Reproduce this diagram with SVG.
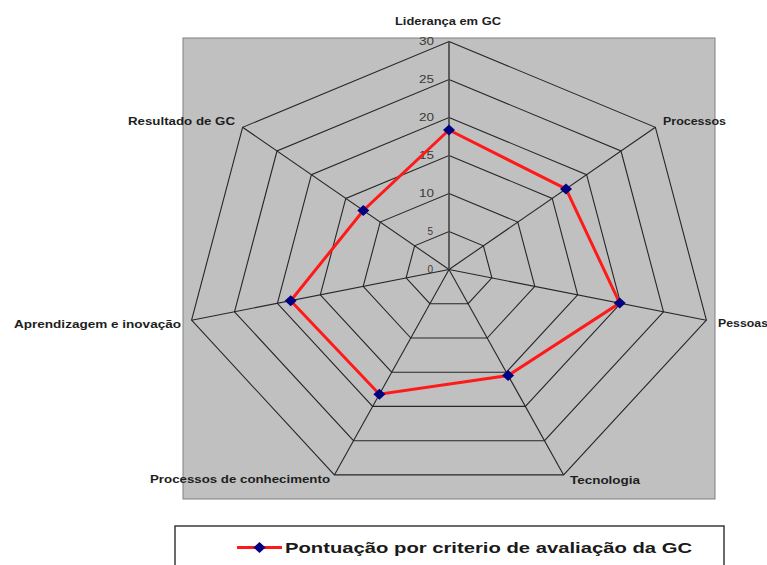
<svg xmlns="http://www.w3.org/2000/svg" width="767" height="565" viewBox="0 0 767 565">
<style>
.ring{fill:none;stroke:#262626;stroke-width:1.1}
.axis{stroke:#262626;stroke-width:1.1}
.vaxis{stroke:#4a4a4a;stroke-width:1.7}
.tick{font-family:"Liberation Sans",Arial,sans-serif;font-size:10px;fill:#3a3a3a;text-anchor:end}
.cat{font-family:"Liberation Sans",Arial,sans-serif;font-size:10.5px;font-weight:bold;fill:#1e1e1e}
.series{fill:none;stroke:#ff1a1a;stroke-width:3;stroke-linejoin:miter}
.leg{font-family:"Liberation Sans",Arial,sans-serif;font-size:15px;font-weight:bold;fill:#1a1a1a}
</style>
<defs>
<path id="dia" d="M0,-5.5 L6,0 L0,5.5 L-6,0 Z" fill="#000080"/>
</defs>
<rect width="767" height="565" fill="#ffffff"/>
<g id="plot-area">
<rect x="183" y="38" width="532" height="461" fill="#c0c0c0" stroke="#808080" stroke-width="1"/>
</g>
<g id="grid">
<polygon class="ring" points="449,231.5 483.4,245.8 491.9,277.95 468.1,303.7 429.9,303.7 406.1,277.95 414.6,245.8"/>
<polygon class="ring" points="449,193.5 517.8,222.1 534.8,286.4 487.2,338 410.8,338 363.2,286.4 380.2,222.1"/>
<polygon class="ring" points="449,155.5 552.2,198.4 577.7,294.85 506.3,372.2 391.7,372.2 320.3,294.85 345.8,198.4"/>
<polygon class="ring" points="449,117.5 586.6,174.7 620.6,303.3 525.4,406.4 372.6,406.4 277.4,303.3 311.4,174.7"/>
<polygon class="ring" points="449,79.5 621,151 663.5,311.75 544.5,440.7 353.5,440.7 234.5,311.75 277,151"/>
<polygon class="ring" points="449,41.5 655.4,127.3 706.4,320.2 563.6,474.9 334.4,474.9 191.6,320.2 242.6,127.3"/>
<line class="axis" x1="449" y1="269.5" x2="655.4" y2="127.3"/>
<line class="axis" x1="449" y1="269.5" x2="706.4" y2="320.2"/>
<line class="axis" x1="449" y1="269.5" x2="563.6" y2="474.9"/>
<line class="axis" x1="449" y1="269.5" x2="334.4" y2="474.9"/>
<line class="axis" x1="449" y1="269.5" x2="191.6" y2="320.2"/>
<line class="axis" x1="449" y1="269.5" x2="242.6" y2="127.3"/>
<line class="vaxis" x1="449" y1="269.5" x2="449" y2="41.5"/>
</g>
<g id="ticks">
<text class="tick" x="434" y="45" textLength="15" lengthAdjust="spacingAndGlyphs">30</text>
<text class="tick" x="434" y="83" textLength="15" lengthAdjust="spacingAndGlyphs">25</text>
<text class="tick" x="434" y="121" textLength="15" lengthAdjust="spacingAndGlyphs">20</text>
<text class="tick" x="434" y="159" textLength="15" lengthAdjust="spacingAndGlyphs">15</text>
<text class="tick" x="434" y="197" textLength="15" lengthAdjust="spacingAndGlyphs">10</text>
<text class="tick" x="433" y="235">5</text>
<text class="tick" x="433" y="273">0</text>
</g>
<g id="series">
<polygon class="series" points="449,130 566,188.9 619.7,303.1 508.1,375.5 379.4,394.2 290.7,300.7 363.3,210.5"/>
<use href="#dia" x="449" y="130"/>
<use href="#dia" x="566" y="188.9"/>
<use href="#dia" x="619.7" y="303.1"/>
<use href="#dia" x="508.1" y="375.5"/>
<use href="#dia" x="379.4" y="394.2"/>
<use href="#dia" x="290.7" y="300.7"/>
<use href="#dia" x="363.3" y="210.5"/>
</g>
<g id="label-lideranca"><text class="cat" x="395" y="25" textLength="106" lengthAdjust="spacingAndGlyphs">Liderança em GC</text></g>
<g id="label-processos"><text class="cat" x="663" y="125" textLength="63" lengthAdjust="spacingAndGlyphs">Processos</text></g>
<g id="label-pessoas"><text class="cat" x="718" y="327" textLength="50" lengthAdjust="spacingAndGlyphs">Pessoas</text></g>
<g id="label-tecnologia"><text class="cat" x="570" y="484" textLength="70" lengthAdjust="spacingAndGlyphs">Tecnologia</text></g>
<g id="label-processos-conhecimento"><text class="cat" x="150" y="483" textLength="180" lengthAdjust="spacingAndGlyphs">Processos de conhecimento</text></g>
<g id="label-aprendizagem"><text class="cat" x="14" y="328" textLength="167" lengthAdjust="spacingAndGlyphs">Aprendizagem e inovação</text></g>
<g id="label-resultado"><text class="cat" x="128" y="125" textLength="107" lengthAdjust="spacingAndGlyphs">Resultado de GC</text></g>
<g id="legend">
<rect x="175" y="526" width="549" height="50" fill="#ffffff" stroke="#3a3a3a" stroke-width="1.5"/>
<line x1="237" y1="547.5" x2="282" y2="547.5" stroke="#ff1a1a" stroke-width="3"/>
<use href="#dia" x="259.5" y="547.5"/>
<text class="leg" x="285" y="553" textLength="407" lengthAdjust="spacingAndGlyphs">Pontuação por criterio de avaliação da GC</text>
</g>
</svg>
